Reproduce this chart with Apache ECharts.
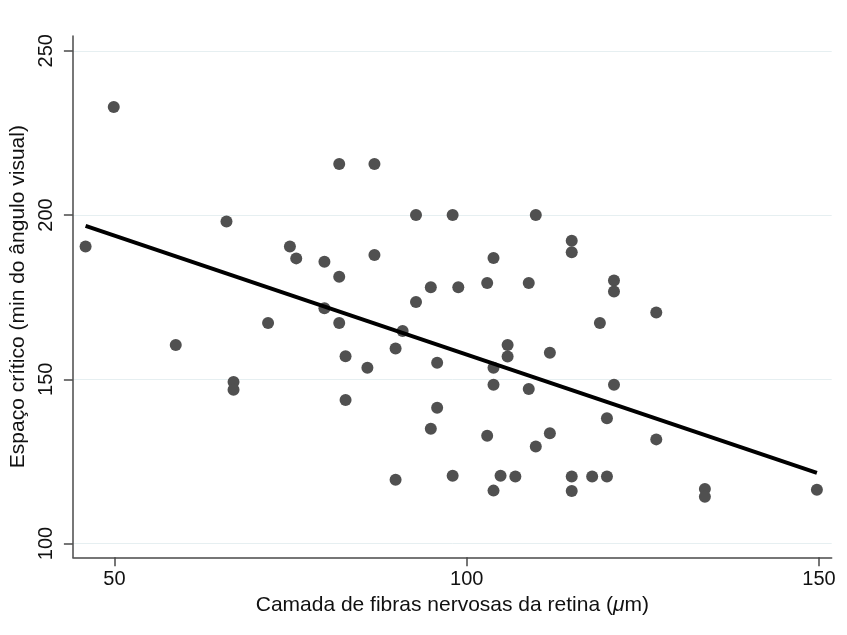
<!DOCTYPE html>
<html>
<head>
<meta charset="utf-8">
<script src="https://cdn.jsdelivr.net/npm/echarts@6/dist/echarts.min.js"></script>
<style>
  html, body { margin: 0; padding: 0; background: #fff; }
  #chart { width: 847px; height: 635px; }
</style>
</head>
<body>
<div id="chart"></div>
<script>
// camada de fibras (um) for each eye
const rnfl = [
  45.9, 49.9, 58.7, 65.9, 66.9, 66.9, 71.8, 74.9, 75.8, 81.9,
  86.9, 79.8, 81.9, 79.8, 81.9, 82.8, 82.8, 85.9, 86.9, 89.9,
  90.9, 89.9, 92.8, 92.8, 94.9, 94.9, 95.8, 95.8, 98.0, 98.0,
  98.8, 102.9, 102.9, 103.8, 103.8, 103.8, 103.8, 104.8, 105.8, 105.8,
  106.9, 108.8, 108.8, 109.8, 109.8, 111.8, 111.8, 114.9, 114.9, 114.9,
  114.9, 117.8, 118.9, 119.9, 119.9, 120.9, 120.9, 120.9, 126.9, 126.9,
  133.8, 133.8, 149.7
]
// espaco critico (min)
const critSpace = [
  190.4, 232.9, 160.4, 198.0, 149.2, 146.8, 167.1, 190.4, 186.8, 215.5,
  215.5, 185.8, 181.2, 171.6, 167.1, 157.0, 143.7, 153.5, 187.8, 159.4,
  164.7, 119.4, 200.0, 173.5, 178.0, 134.9, 155.0, 141.3, 200.0, 120.6,
  178.0, 179.3, 132.8, 186.9, 153.5, 148.3, 116.1, 120.6, 160.4, 156.9,
  120.4, 179.3, 147.0, 200.0, 129.5, 158.1, 133.6, 192.2, 188.7, 120.4,
  116.0, 120.4, 167.1, 138.1, 120.4, 180.1, 176.7, 148.3, 170.3, 131.7,
  116.6, 114.2, 116.4
]
// fitted line ends
const fitX = [45.9, 149.7]
const fitY = [196.7, 121.5]

const xTicks = [50, 100, 150]
const yTicks = [100, 150, 200, 250]

const font = 'Liberation Sans, Arial, Helvetica, sans-serif'
const axisColor = '#4a4a4a'
const fs = 21

const chart = echarts.init(document.getElementById('chart'))
chart.setOption({
  animation: false,
  grid: { left: 71.7, right: 15.3, top: 36, bottom: 77.7, containLabel: false },
  xAxis: {
    type: 'value',
    min: 44.1,
    max: 151.8,
    name: '{n|Camada de fibras nervosas da retina (}{i|μ}{n|m)}',
    nameLocation: 'middle',
    nameGap: 37,
    nameTextStyle: {
      rich: {
        n: { fontFamily: font, fontSize: fs, color: '#111' },
        i: { fontFamily: font, fontSize: fs, color: '#111', fontStyle: 'italic' }
      }
    },
    axisLine: { lineStyle: { color: axisColor, width: 1.5 } },
    axisTick: { length: 9, customValues: xTicks, lineStyle: { color: axisColor, width: 1.5 } },
    axisLabel: { customValues: xTicks, fontFamily: font, fontSize: 20, color: '#111', margin: 12 },
    splitLine: { show: false }
  },
  yAxis: {
    type: 'value',
    min: 95.8,
    max: 254.5,
    name: 'Espaço crítico (min do ângulo visual)',
    nameLocation: 'middle',
    nameRotate: 90,
    nameGap: 42,
    nameTextStyle: { fontFamily: font, fontSize: fs, color: '#111' },
    axisLine: { show: true, lineStyle: { color: axisColor, width: 1.5 } },
    axisTick: { show: true, length: 9, customValues: yTicks, lineStyle: { color: axisColor, width: 1.5 } },
    axisLabel: { customValues: yTicks, rotate: 90, fontFamily: font, fontSize: 20, color: '#111', margin: 16 },
    splitLine: { show: true, lineStyle: { color: '#e6eff1', width: 1 } }
  },
  series: [
    {
      type: 'scatter',
      data: rnfl.map((x, i) => [x, critSpace[i]]),
      symbolSize: 12,
      itemStyle: { color: '#505050', opacity: 1 }
    },
    {
      type: 'line',
      data: fitX.map((x, i) => [x, fitY[i]]),
      showSymbol: false,
      lineStyle: { color: '#000', width: 4 },
      z: 3
    }
  ]
})
</script>
</body>
</html>
